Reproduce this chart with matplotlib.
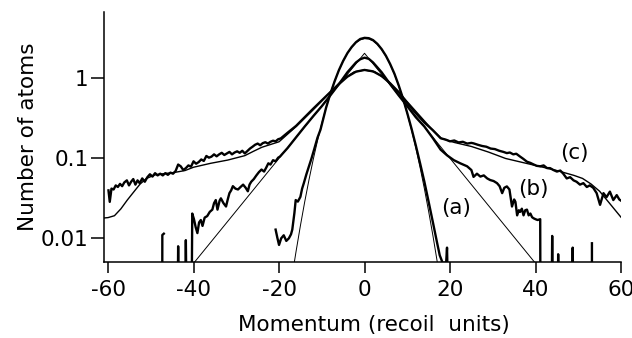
import matplotlib
matplotlib.use("Agg")
import matplotlib.pyplot as plt
import numpy as np
from matplotlib.ticker import FixedLocator, NullLocator

plt.rcParams['font.family'] = ['DejaVu Sans']
plt.rcParams['axes.unicode_minus'] = False

nan = np.nan

# (a) measured profile
a_x = [-20.8, -20.4, -20.0, -19.5, -18.9, -18.3, -17.7, -17.2, -16.9, -16.4, -16.1, -15.6,
       -15.0, -14.6, -14.2, -13.6, -13.0, -12.4, -11.8, -11.0, -10.3, -9, -8, -7, -6, -5,
       -4, -3, -2, -1, 0, 1, 2, 3, 4, 5, 6, 7, 8, 9, 10, 11, 12, 13, 14, 15, 16, 17,
       17.6, 18.3, 19.1, 19.3, 19.45]
a_y = [0.0126, 0.0100, 0.0081, 0.0098, 0.0107, 0.0091, 0.0098, 0.0110, 0.0126, 0.0204,
       0.0295, 0.0282, 0.0324, 0.041, 0.048, 0.062, 0.078, 0.098, 0.126, 0.178, 0.224,
       0.42, 0.63, 0.90, 1.24, 1.62, 2.03, 2.42, 2.78, 3.05, 3.15, 3.12, 2.95, 2.65, 2.28,
       1.88, 1.48, 1.12, 0.80, 0.55, 0.36, 0.23, 0.142, 0.085, 0.050, 0.028, 0.0155,
       0.0085, 0.0060, 0.0048, 0.0049, 0.0075, 0.003]

# (a) fit
afit_x = [-17, -16, -15, -14, -13, -12, -11, -10, -9, -8, -7, -6, -5, -4, -3, -2, -1, 0,
          1, 2, 3, 4, 5, 6, 7, 8, 9, 10, 11, 12, 13, 14, 15, 16, 17, 18]
afit_y = [0.00316, 0.0068, 0.0141, 0.0279, 0.0526, 0.0949, 0.163, 0.269, 0.422, 0.632,
          0.906, 1.24, 1.62, 2.02, 2.40, 2.74, 2.97, 3.08, 3.05, 2.89, 2.61, 2.25, 1.86,
          1.46, 1.10, 0.789, 0.541, 0.354, 0.221, 0.132, 0.0753, 0.041, 0.0213, 0.0106,
          0.00502, 0.00228]

# (b) measured profile
b_x = [-47.35, -47.3, -46.95, -46.9,
       -43.9, -43.6, -43.3, -43.2,
       -42.1, -41.8, -41.4, -40.6, -40.3, -39.9, -39.5, -39.1, -38.7, -38.3, -37.9, -37.4,
       -36.8, -36.2, -35.6, -35.2, -34.8, -34.4, -33.9, -33.6, -33.0, -32.4, -32.0, -31.6,
       -31.2, -30.8, -30.2, -29.6, -29.0, -28.4, -27.8, -27.3, -26.9, -26.5, -25.9, -25.3,
       -24.7, -24.1, -23.5, -23.0, -22.5, -22.0, -21.4, -20.8, -20.2, -19.8, -18, -16,
       -14, -12, -10, -8, -6, -4, -2, -1, 0, 1, 2, 4, 6, 8, 10, 12, 14, 16, 17.8, 19.3,
       20.9, 22.4, 24.0, 25.0, 25.5, 26.3, 27.1, 27.9, 28.7, 29.4, 30.2, 31.0, 31.6, 32.2,
       32.7, 33.3, 33.9, 34.5, 35.0, 35.3, 35.7, 36.1, 36.4, 36.8, 37.2, 37.6, 38.0, 38.4,
       38.8, 39.2, 39.6, 40.0, 40.5, 41.1, 41.2, 41.3,
       43.6, 43.9, 44.2, 44.3,
       45.1, 45.3, 45.5, 45.6,
       48.3, 48.7, 49.1, 49.2,
       53.2, 53.2]
b_y = [0.0001, 0.0108, 0.0112, nan,
       0.0001, 0.0078, 0.0001, nan,
       0.0001, 0.0093, 0.0001, 0.0001, 0.0200, 0.0170, 0.0135, 0.0114, 0.0155, 0.0166,
       0.0140, 0.0178, 0.0186, 0.021, 0.0224, 0.027, 0.0295, 0.0224, 0.029, 0.031, 0.027,
       0.0245, 0.030, 0.036, 0.039, 0.044, 0.041, 0.040, 0.043, 0.046, 0.042, 0.038, 0.046,
       0.050, 0.054, 0.060, 0.066, 0.071, 0.067, 0.075, 0.085, 0.082, 0.093, 0.090, 0.100,
       0.103, 0.132, 0.18, 0.245, 0.33, 0.44, 0.60, 0.83, 1.17, 1.55, 1.70, 1.78, 1.72,
       1.55, 1.17, 0.83, 0.60, 0.44, 0.32, 0.245, 0.175, 0.126, 0.107, 0.093, 0.085, 0.078,
       0.070, 0.0575, 0.063, 0.058, 0.060, 0.055, 0.0525, 0.051, 0.048, 0.044, 0.036, 0.042,
       0.0437, 0.040, 0.0245, 0.030, 0.028, 0.019, 0.022, 0.021, 0.023, 0.019, 0.022,
       0.0224, 0.019, 0.020, 0.018, 0.0174, 0.0170, 0.0166, 0.0170, 0.0001, nan,
       0.0001, 0.0105, 0.0001, nan,
       0.0001, 0.0062, 0.0001, nan,
       0.0001, 0.0075, 0.0001, nan,
       0.0001, 0.0085]

# (b) fit
bfit_x = [-41, 0, 41]
bfit_y = [0.0041, 2.02, 0.0041]

# (c) measured profile
c_x = [-59.9, -59.6, -59.2, -58.7, -58.2, -57.7, -57.2, -56.7, -56.2, -55.6, -55.1, -54.6,
       -54.1, -53.6, -53.1, -52.6, -52.0, -51.4, -50.8, -50.2, -49.6, -49.0, -48.4, -47.8,
       -47.2, -46.6, -46.0, -45.4, -44.8, -44.2, -43.6, -43.0, -42.4, -41.8, -41.2, -40.6,
       -40.0, -39.4, -38.8, -38.2, -37.6, -37.0, -36.4, -35.8, -35.2, -34.6, -34.0, -33.4,
       -32.8, -32.2, -31.6, -31.0, -30.4, -29.8, -29.2, -28.6, -28.0, -27.4, -26.8, -26.2,
       -25.6, -25.0, -24.4, -23.8, -23.2, -22.6, -22.0, -21.4, -20.8, -20.2, -19.6, -18,
       -16, -14, -12, -10, -8, -6, -4, -2, 0, 2, 4, 6, 8, 10, 12, 14, 16, 17.8, 19, 20, 21,
       22, 23, 24, 25, 25.5, 26.5, 27.5, 28.5, 29.5, 30.5, 31.5, 32.5, 33.3, 34.0, 34.8,
       35.5, 36.3, 37.1, 38.0, 38.8, 39.6, 40.3, 41.1, 41.9, 42.7, 43.4, 44.2, 45.0, 45.8,
       46.5, 47.3, 48.1, 48.9, 49.6, 50.4, 51.2, 52.0, 52.7, 53.5, 54.3, 55.1, 55.9, 56.6,
       57.4, 58.2, 59.0, 59.6, 60.0]
c_y = [0.039, 0.028, 0.041, 0.040, 0.045, 0.043, 0.047, 0.044, 0.049, 0.052, 0.045, 0.050,
       0.054, 0.046, 0.052, 0.048, 0.055, 0.050, 0.057, 0.062, 0.058, 0.064, 0.060, 0.063,
       0.060, 0.064, 0.061, 0.065, 0.063, 0.068, 0.082, 0.078, 0.070, 0.074, 0.080, 0.077,
       0.090, 0.084, 0.088, 0.095, 0.091, 0.105, 0.100, 0.103, 0.110, 0.104, 0.110, 0.115,
       0.108, 0.113, 0.118, 0.110, 0.116, 0.120, 0.115, 0.122, 0.113, 0.121, 0.130, 0.137,
       0.145, 0.150, 0.143, 0.152, 0.156, 0.150, 0.158, 0.163, 0.160, 0.170, 0.174, 0.205,
       0.25, 0.32, 0.41, 0.52, 0.66, 0.83, 1.03, 1.19, 1.25, 1.20, 1.05, 0.85, 0.66, 0.48,
       0.36, 0.275, 0.22, 0.175, 0.168, 0.160, 0.164, 0.155, 0.158, 0.150, 0.153, 0.151,
       0.145, 0.140, 0.137, 0.130, 0.128, 0.122, 0.118, 0.114, 0.116, 0.110, 0.112, 0.104,
       0.097, 0.089, 0.086, 0.082, 0.079, 0.078, 0.080, 0.074, 0.074, 0.070, 0.067, 0.069,
       0.063, 0.055, 0.057, 0.052, 0.050, 0.046, 0.048, 0.043, 0.045, 0.042, 0.036, 0.0257,
       0.036, 0.032, 0.0376, 0.0295, 0.034, 0.030, 0.029]

# (c) fit
cfit_x = [-61, -60, -58.5, -57, -55.5, -54, -52.5, -51, -49, -47, -44.5, -42, -40, -36,
          -32, -28, -26, -24, -20, -16, -12, -8, -5, -2.5, 0, 2.5, 5, 8, 12, 16, 18, 21,
          25, 29, 33, 37, 41, 45, 49, 51, 53, 55, 57, 59, 60]
cfit_y = [0.0176, 0.0178, 0.0188, 0.0229, 0.0295, 0.0372, 0.0468, 0.055, 0.061, 0.063,
          0.0653, 0.069, 0.0759, 0.085, 0.0933, 0.106, 0.120, 0.135, 0.158, 0.245, 0.398,
          0.66, 0.955, 1.175, 1.25, 1.175, 0.955, 0.66, 0.38, 0.219, 0.174, 0.155, 0.138,
          0.1175, 0.0977, 0.087, 0.0776, 0.069, 0.060, 0.055, 0.0468, 0.038, 0.0282,
          0.0209, 0.018]

labels = ['(a)', '(b)', '(c)']
label_x = [21.3, 39.5, 49.1]
label_y = [0.0235, 0.0407, 0.114]

fig = plt.figure(figsize=(6.32, 3.38), dpi=100)
ax = fig.add_axes([0.1646, 0.2249, 0.818, 0.7396])

thick = 1.7
thin = 0.7
ax.plot(a_x, a_y, color='black', lw=thick)
ax.plot(afit_x, afit_y, color='black', lw=thin)
ax.plot(b_x, b_y, color='black', lw=thick)
ax.plot(bfit_x, bfit_y, color='black', lw=thin)
ax.plot(c_x, c_y, color='black', lw=thick)
ax.plot(cfit_x, cfit_y, color='black', lw=thin + 0.3)

fs = 15.5
for t, x, y in zip(labels, label_x, label_y):
    ax.text(x, y, t, fontsize=fs, ha='center', va='center')

ax.set_yscale('log')
ax.set_xlim(-60.94, 60)
ax.set_ylim(0.00496, 6.63)

ax.xaxis.set_major_locator(FixedLocator([-60, -40, -20, 0, 20, 40, 60]))
ax.yaxis.set_major_locator(FixedLocator([0.01, 0.1, 1]))
ax.yaxis.set_minor_locator(NullLocator())
ax.set_yticklabels(['0.01', '0.1', '1'])
ax.set_xticklabels(['-60', '-40', '-20', '0', '20', '40', '60'])

for s in ['top', 'right']:
    ax.spines[s].set_visible(False)
for s in ['left', 'bottom']:
    ax.spines[s].set_linewidth(1.1)

ax.tick_params(axis='both', direction='out', width=1.1, labelsize=fs)
ax.tick_params(axis='y', length=9.5, pad=1.5)
ax.tick_params(axis='x', length=8, pad=5)

ax.set_xlabel('Momentum (recoil  units)', fontsize=fs)
ax.set_ylabel('Number of atoms', fontsize=fs)
ax.xaxis.set_label_coords(0.522, -0.212)
ax.yaxis.set_label_coords(-0.128, 0.5)

fig.savefig('out.png', dpi=100)
